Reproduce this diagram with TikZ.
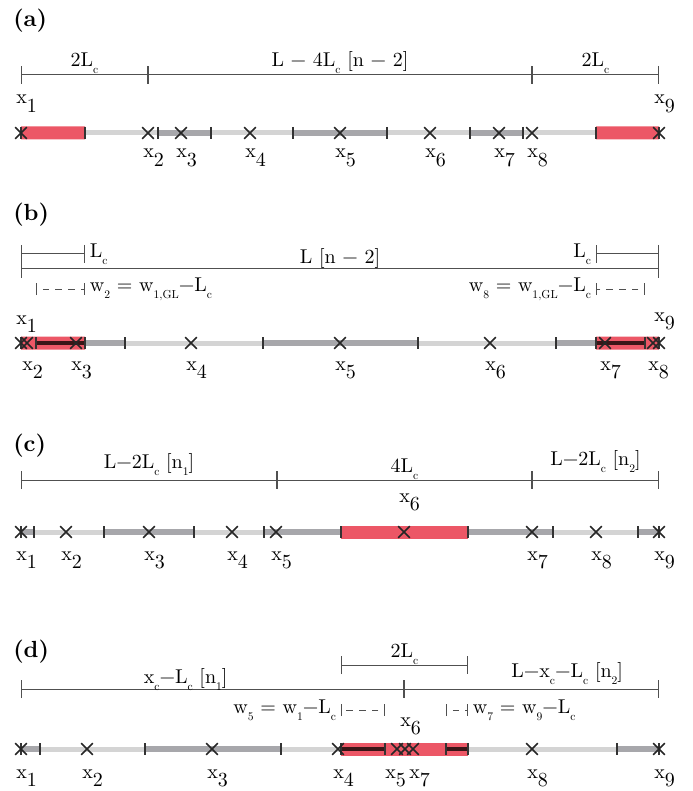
\documentclass[tikz,border=0pt]{standalone}
\usepackage{fontspec}
\setmainfont{lmroman10-regular.otf}[BoldFont=lmroman10-bold.otf]
\usetikzlibrary{arrows.meta,shapes.misc}

\definecolor{hotred}{HTML}{EC5766}
\definecolor{lightbar}{HTML}{D4D4D4}
\definecolor{darkbar}{HTML}{A7A7AB}
\definecolor{coreline}{HTML}{3A1517}
\definecolor{dimgray}{HTML}{505050}

\newcommand{\xsub}[1]{\raisebox{-0.42em}{#1}}
\newcommand{\tsub}[1]{\raisebox{-0.37em}{\fontsize{8.7}{9}\selectfont #1}}

\begin{document}
\begin{tikzpicture}[
        x=0.75pt, y=-0.75pt,
        font=\fontsize{15}{17}\selectfont,
        panel/.style={font=\fontsize{17.5}{20}\selectfont\bfseries, anchor=west, inner sep=0pt},
        dim/.style={draw=dimgray, line width=0.75pt, {Bar[width=13.5pt]}-{Bar[width=13.5pt]}},
        dimlab/.style={midway, anchor=base, yshift=#1, inner sep=0pt},
        wdim/.style={draw=dimgray, line width=0.75pt, dash pattern=on 5pt off 4.5pt, dash phase=5pt, {Bar[width=9pt]}-{Bar[width=9pt]}},
        light/.style={draw=lightbar, line width=3.75pt},
        dark/.style={draw=darkbar, line width=4.5pt},
        hot/.style={fill=hotred},
        core/.style={draw=coreline, line width=3.5pt},
        tk/.style={draw=black!80, line width=1.1pt},
        xm/.style={cross out, draw=black!85, line width=1.2pt, minimum size=7.5pt, inner sep=0pt},
        xlab/.style={anchor=base west, inner sep=0pt}
    ]
        \useasboundingbox (0,0) rectangle (692,791);

        % ---------------- (a) ----------------
        \node[panel] (PA) at (13,21) {(a)};
        \coordinate (DA0) at (21,75);
        \coordinate (DA1) at (148,75);
        \coordinate (DA2) at (532,75);
        \coordinate (DA3) at (659,75);
        \draw[dim] (DA0) -- node[dimlab=6.5pt] (TA1) {2L\tsub{c}} (DA1);
        \draw[dim] (DA1) -- node[dimlab=6.5pt] (TA2) {L − 4L\tsub{c} [n − 2]} (DA2);
        \draw[dim] (DA2) -- node[dimlab=6.5pt] (TA3) {2L\tsub{c}} (DA3);

        % Barre (a)
        \fill[hot] (21,126.5) rectangle (85,139.5) (596,126.5) rectangle (659,139.5);
        \draw[light] (85,133) -- (158,133) (211,133) -- (293,133) (387,133) -- (470,133) (523,133) -- (596,133);
        \draw[dark] (158,133) -- (211,133) (293,133) -- (387,133) (470,133) -- (523,133);
        \draw[tk] (21,127) -- ++(0,12) (85,127) -- ++(0,12) (158,127) -- ++(0,12) (211,127) -- ++(0,12)
            (293,127) -- ++(0,12) (387,127) -- ++(0,12) (470,127) -- ++(0,12) (523,127) -- ++(0,12)
            (596,127) -- ++(0,12) (659,127) -- ++(0,12);

        % Points x (a)
        \node[xm] (XA1) at (21,133) {};
        \node[xm] (XA2) at (148,133) {};
        \node[xm] (XA3) at (181,133) {};
        \node[xm] (XA4) at (250,133) {};
        \node[xm] (XA5) at (340,133) {};
        \node[xm] (XA6) at (430,133) {};
        \node[xm] (XA7) at (499,133) {};
        \node[xm] (XA8) at (532,133) {};
        \node[xm] (XA9) at (659,133) {};
        \node[xlab] (LA1) at (16,104) {x\xsub{1}};
        \node[xlab] (LA2) at (143,158) {x\xsub{2}};
        \node[xlab] (LA3) at (176,158) {x\xsub{3}};
        \node[xlab] (LA4) at (245,158) {x\xsub{4}};
        \node[xlab] (LA5) at (335,158) {x\xsub{5}};
        \node[xlab] (LA6) at (425,158) {x\xsub{6}};
        \node[xlab] (LA7) at (494,158) {x\xsub{7}};
        \node[xlab] (LA8) at (527,158) {x\xsub{8}};
        \node[xlab] (LA9) at (654,104) {x\xsub{9}};

        % ---------------- (b) ----------------
        \node[panel] (PB) at (13,215) {(b)};
        \coordinate (DB0) at (21,254);
        \coordinate (DB1) at (85,254);
        \coordinate (DB2) at (21,269);
        \coordinate (DB3) at (659,269);
        \coordinate (DB4) at (596,254);
        \coordinate (DB5) at (659,254);
        \coordinate (WB0) at (36,289);
        \coordinate (WB1) at (85,289);
        \coordinate (WB2) at (596,289);
        \coordinate (WB3) at (645,289);
        \draw[dim] (DB0) -- (DB1) node[right] (TB1) {L\tsub{c}};
        \draw[dim] (DB2) -- node[dimlab=4.5pt] (TB2) {L [n − 2]} (DB3);
        \draw[dim] (DB5) -- (DB4) node[left] (TB3) {L\tsub{c}};
        \draw[wdim] (WB0) -- (WB1) node[right] (TB4) {w\tsub{2} = w\tsub{1,GL}−L\tsub{c}};
        \draw[wdim] (WB3) -- (WB2) node[left] (TB5) {w\tsub{8} = w\tsub{1,GL}−L\tsub{c}};

        % Barre (b)
        \fill[hot] (21,336.5) rectangle (85,349.5) (596,336.5) rectangle (659,349.5);
        \draw[core] (36,343) -- (85,343) (596,343) -- (645,343);
        \draw[dark] (85,343) -- (125,343) (263,343) -- (418,343) (556,343) -- (596,343);
        \draw[light] (125,343) -- (263,343) (418,343) -- (556,343);
        \draw[tk] (21,337) -- ++(0,12) (36,337) -- ++(0,12) (85,337) -- ++(0,12) (125,337) -- ++(0,12)
            (263,337) -- ++(0,12) (418,337) -- ++(0,12) (556,337) -- ++(0,12) (596,337) -- ++(0,12)
            (645,337) -- ++(0,12) (659,337) -- ++(0,12);

        % Points x (b)
        \node[xm] (XB1) at (21,343) {};
        \node[xm] (XB2) at (27,343) {};
        \node[xm] (XB3) at (76,343) {};
        \node[xm] (XB4) at (191,343) {};
        \node[xm] (XB5) at (340,343) {};
        \node[xm] (XB6) at (490,343) {};
        \node[xm] (XB7) at (605,343) {};
        \node[xm] (XB8) at (653,343) {};
        \node[xm] (XB9) at (659,343) {};
        \node[xlab] (LB1) at (16,324) {x\xsub{1}};
        \node[xlab] (LB2) at (22,370) {x\xsub{2}};
        \node[xlab] (LB3) at (71,370) {x\xsub{3}};
        \node[xlab] (LB4) at (186,370) {x\xsub{4}};
        \node[xlab] (LB5) at (335,370) {x\xsub{5}};
        \node[xlab] (LB6) at (485,370) {x\xsub{6}};
        \node[xlab] (LB7) at (600,370) {x\xsub{7}};
        \node[xlab] (LB8) at (648,370) {x\xsub{8}};
        \node[xlab] (LB9) at (654,321) {x\xsub{9}};

        % ---------------- (c) ----------------
        \node[panel] (PC) at (13,446) {(c)};
        \coordinate (DC0) at (21,480);
        \coordinate (DC1) at (277,480);
        \coordinate (DC2) at (532,480);
        \coordinate (DC3) at (659,480);
        \draw[dim] (DC0) -- node[dimlab=9pt] (TC1) {L−2L\tsub{c} [n\tsub{1}]} (DC1);
        \draw[dim] (DC1) -- node[dimlab=6pt] (TC2) {4L\tsub{c}} (DC2);
        \draw[dim] (DC2) -- node[dimlab=11.25pt] (TC3) {L−2L\tsub{c} [n\tsub{2}]} (DC3);

        % Barre (c)
        \fill[hot] (341,525.5) rectangle (468,538.5);
        \draw[dark] (21,532) -- (34,532) (104,532) -- (194,532) (264,532) -- (341,532) (468,532) -- (553,532) (638,532) -- (659,532);
        \draw[light] (34,532) -- (104,532) (194,532) -- (264,532) (553,532) -- (638,532);
        \draw[tk] (21,526) -- ++(0,12) (34,526) -- ++(0,12) (104,526) -- ++(0,12) (194,526) -- ++(0,12)
            (264,526) -- ++(0,12) (341,526) -- ++(0,12) (468,526) -- ++(0,12) (553,526) -- ++(0,12)
            (638,526) -- ++(0,12) (659,526) -- ++(0,12);

        % Points x (c)
        \node[xm] (XC1) at (21,532) {};
        \node[xm] (XC2) at (66,532) {};
        \node[xm] (XC3) at (149,532) {};
        \node[xm] (XC4) at (232,532) {};
        \node[xm] (XC5) at (276,532) {};
        \node[xm] (XC6) at (404,532) {};
        \node[xm] (XC7) at (532,532) {};
        \node[xm] (XC8) at (596,532) {};
        \node[xm] (XC9) at (659,532) {};
        \node[xlab] (LC1) at (16,560) {x\xsub{1}};
        \node[xlab] (LC2) at (61,560) {x\xsub{2}};
        \node[xlab] (LC3) at (144,560) {x\xsub{3}};
        \node[xlab] (LC4) at (227,560) {x\xsub{4}};
        \node[xlab] (LC5) at (271,560) {x\xsub{5}};
        \node[xlab] (LC6) at (399,502) {x\xsub{6}};
        \node[xlab] (LC7) at (527,560) {x\xsub{7}};
        \node[xlab] (LC8) at (591,560) {x\xsub{8}};
        \node[xlab] (LC9) at (654,560) {x\xsub{9}};

        % ---------------- (d) ----------------
        \node[panel] (PD) at (13,652) {(d)};
        \coordinate (DD0) at (341,665);
        \coordinate (DD1) at (468,665);
        \coordinate (DD2) at (21,689);
        \coordinate (DD3) at (404,689);
        \coordinate (DD4) at (659,689);
        \coordinate (WD0) at (341,710);
        \coordinate (WD1) at (385,710);
        \coordinate (WD2) at (446,710);
        \coordinate (WD3) at (468,710);
        \draw[dim] (DD0) -- node[dimlab=6pt] (TD1) {2L\tsub{c}} (DD1);
        \draw[dim] (DD2) -- node[dimlab=4.5pt, pos=0.43] (TD2) {x\tsub{c}−L\tsub{c} [n\tsub{1}]} (DD3);
        \draw[dim] (DD3) -- node[dimlab=9pt, pos=0.64] (TD3) {L−x\tsub{c}−L\tsub{c} [n\tsub{2}]} (DD4);
        \draw[wdim] (WD1) -- (WD0) node[left] (TD4) {w\tsub{5} = w\tsub{1}−L\tsub{c}};
        \draw[wdim] (WD2) -- (WD3) node[right] (TD5) {w\tsub{7} = w\tsub{9}−L\tsub{c}};

        % Barre (d)
        \fill[hot] (341,742.5) rectangle (468,755.5);
        \draw[core] (341,749) -- (385,749) (446,749) -- (468,749);
        \draw[dark] (21,749) -- (40,749) (145,749) -- (281,749) (617,749) -- (659,749);
        \draw[light] (40,749) -- (145,749) (281,749) -- (341,749) (468,749) -- (617,749);
        \draw[tk] (21,743) -- ++(0,12) (40,743) -- ++(0,12) (145,743) -- ++(0,12) (281,743) -- ++(0,12)
            (341,743) -- ++(0,12) (385,743) -- ++(0,12) (446,743) -- ++(0,12) (468,743) -- ++(0,12)
            (617,743) -- ++(0,12) (659,743) -- ++(0,12);

        % Points x (d)
        \node[xm] (XD1) at (21,749) {};
        \node[xm] (XD2) at (87,749) {};
        \node[xm] (XD3) at (212,749) {};
        \node[xm] (XD4) at (338,749) {};
        \node[xm] (XD5) at (397,749) {};
        \node[xm] (XD6) at (405,749) {};
        \node[xm] (XD7) at (413,749) {};
        \node[xm] (XD8) at (532,749) {};
        \node[xm] (XD9) at (659,749) {};
        \node[xlab] (LD1) at (16,778) {x\xsub{1}};
        \node[xlab] (LD2) at (82,778) {x\xsub{2}};
        \node[xlab] (LD3) at (207,778) {x\xsub{3}};
        \node[xlab] (LD4) at (333,778) {x\xsub{4}};
        \node[xlab] (LD5) at (385,778) {x\xsub{5}};
        \node[xlab] (LD6) at (400,726) {x\xsub{6}};
        \node[xlab] (LD7) at (409,778) {x\xsub{7}};
        \node[xlab] (LD8) at (527,778) {x\xsub{8}};
        \node[xlab] (LD9) at (654,778) {x\xsub{9}};
    \end{tikzpicture}
\end{document}
